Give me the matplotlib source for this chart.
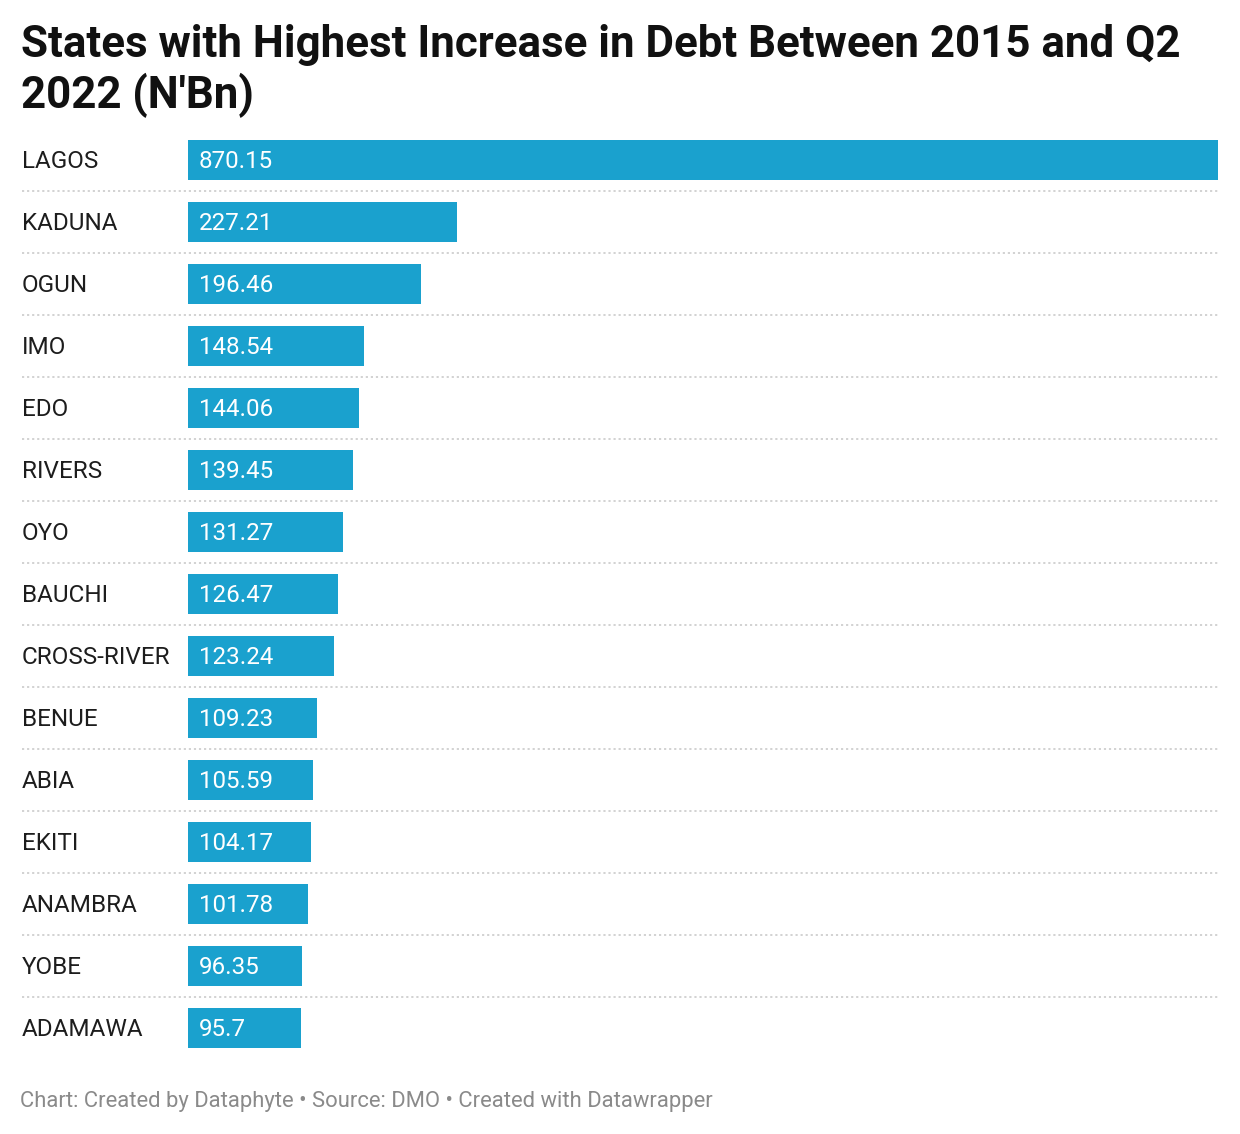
import matplotlib.pyplot as plt
import matplotlib.transforms as mtransforms

plt.rcParams['font.family'] = ['Roboto', 'DejaVu Sans']

states = ["LAGOS", "KADUNA", "OGUN", "IMO", "EDO", "RIVERS", "OYO", "BAUCHI",
          "CROSS-RIVER", "BENUE", "ABIA", "EKITI", "ANAMBRA", "YOBE", "ADAMAWA"]
values = [870.15, 227.21, 196.46, 148.54, 144.06, 139.45, 131.27, 126.47,
          123.24, 109.23, 105.59, 104.17, 101.78, 96.35, 95.7]
value_labels = ["870.15", "227.21", "196.46", "148.54", "144.06", "139.45", "131.27",
                "126.47", "123.24", "109.23", "105.59", "104.17", "101.78", "96.35", "95.7"]

W, H = 1240, 1134
fig = plt.figure(figsize=(W / 100, H / 100), dpi=100)
fig.patch.set_facecolor("white")

n = len(states)
pitch = 62
top = 160 - pitch / 2
bottom = top + pitch * n
ax = fig.add_axes([188 / W, 1 - bottom / H, 1030 / W, (bottom - top) / H])
ax.set_xlim(0, max(values))
ax.set_ylim(n - 0.5, -0.5)
ax.axis("off")

rows = list(range(n))
ax.barh(rows, values, height=40 / pitch, color="#1aa1ce", align="center")

blend = mtransforms.blended_transform_factory(fig.transFigure, ax.transData)
for i, (s, lab) in enumerate(zip(states, value_labels)):
    ax.annotate(s, (22 / W, i), xycoords=blend, xytext=(0, -1.2), textcoords="offset points",
                ha="left", va="center", fontsize=17.5, color="#1d1d1d")
    ax.annotate(lab, (0, i), xytext=(8, -1.2), textcoords="offset points",
                ha="left", va="center", fontsize=17.4, color="white")
    if i < n - 1:
        ax.plot([22 / W, 1218 / W], [i + 0.5, i + 0.5], transform=blend,
                color="#cfcfcf", lw=1.3, ls=(0, (1.2, 1.6)), clip_on=False)

fig.text(21 / W, 1 - 24 / H,
         "States with Highest Increase in Debt Between 2015 and Q2\n2022 (N'Bn)",
         ha="left", va="top", fontsize=31.6, fontweight="bold", color="#111111",
         linespacing=1.2)

fig.text(20 / W, 1 - 1101 / H,
         "Chart: Created by Dataphyte \u2022 Source: DMO \u2022 Created with Datawrapper",
         ha="left", va="center", fontsize=15.8, color="#8a8a8a")

fig.savefig("out.png", dpi=100)
